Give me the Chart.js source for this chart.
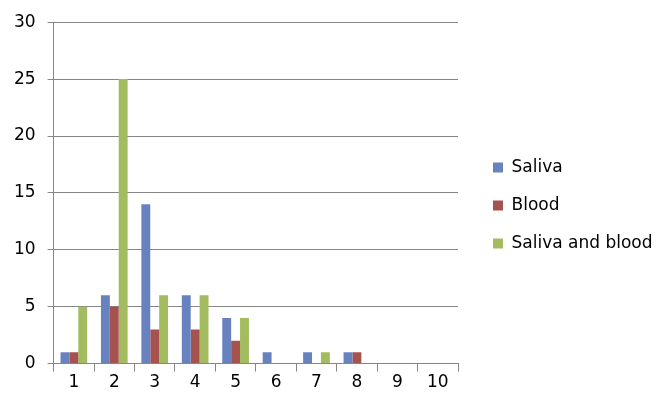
<!DOCTYPE html>
<html><head><meta charset="utf-8">
<script src="https://cdn.jsdelivr.net/npm/chart.js@4/dist/chart.umd.min.js"></script>
<style>html,body{margin:0;padding:0;background:#fff}#wrap{width:661px;height:397px}</style>
</head><body><div id="wrap"><canvas id="c"></canvas></div>
<script>
const categories = ['1','2','3','4','5','6','7','8','9','10'];
const saliva = [1,6,14,6,4,1,1,1,0,0];
const blood = [1,5,3,3,2,0,0,1,0,0];
const salivaAndBlood = [5,25,6,6,4,0,1,0,0,0];
const seriesNames = ['Saliva','Blood','Saliva and blood'];

const fontFam = '"DejaVu Sans", Verdana, sans-serif';
const legendFix = {
  id:'legendFix',
  beforeLayout(chart){
    const lg = chart.legend;
    if (lg && !lg._patched){
      const f = lg.fit.bind(lg);
      lg.fit = function(){ f(); this.width = 661 - 458; };
      lg._patched = true;
    }
  },
  afterLayout(chart){
    if (chart.legend){ chart.legend.left += 14; chart.legend.right += 14; chart.legend.top += 2; chart.legend.bottom += 2; }
  }
};
new Chart(document.getElementById('c'), {
  type:'bar',
  plugins:[legendFix],
  data:{labels:categories, datasets:[
    {label:seriesNames[0], data:saliva, backgroundColor:'#6882C0'},
    {label:seriesNames[1], data:blood, backgroundColor:'#A6524F'},
    {label:seriesNames[2], data:salivaAndBlood, backgroundColor:'#A3BC5F'}
  ]},
  options:{
    responsive:true, maintainAspectRatio:false, animation:false,
    layout:{padding:{left:2,right:0,top:13,bottom:3}},
    datasets:{bar:{categoryPercentage:0.66, barPercentage:1.0}},
    scales:{
      x:{offset:true,
        grid:{display:true, drawOnChartArea:false, offset:true, color:'#868686', tickLength:8},
        border:{color:'#868686', width:1},
        ticks:{color:'#000', font:{family:fontFam, size:17}, padding:1}},
      y:{min:0,max:30,
        ticks:{stepSize:5, color:'#000', font:{family:fontFam, size:17}, padding:12},
        grid:{color:'#868686', tickLength:6},
        border:{color:'#868686', width:1}}
    },
    plugins:{
      legend:{position:'right', align:'center',
        labels:{boxWidth:10, boxHeight:10, padding:21, color:'#000', font:{family:fontFam, size:17}}},
      tooltip:{enabled:false}
    }
  }
});
</script></body></html>
